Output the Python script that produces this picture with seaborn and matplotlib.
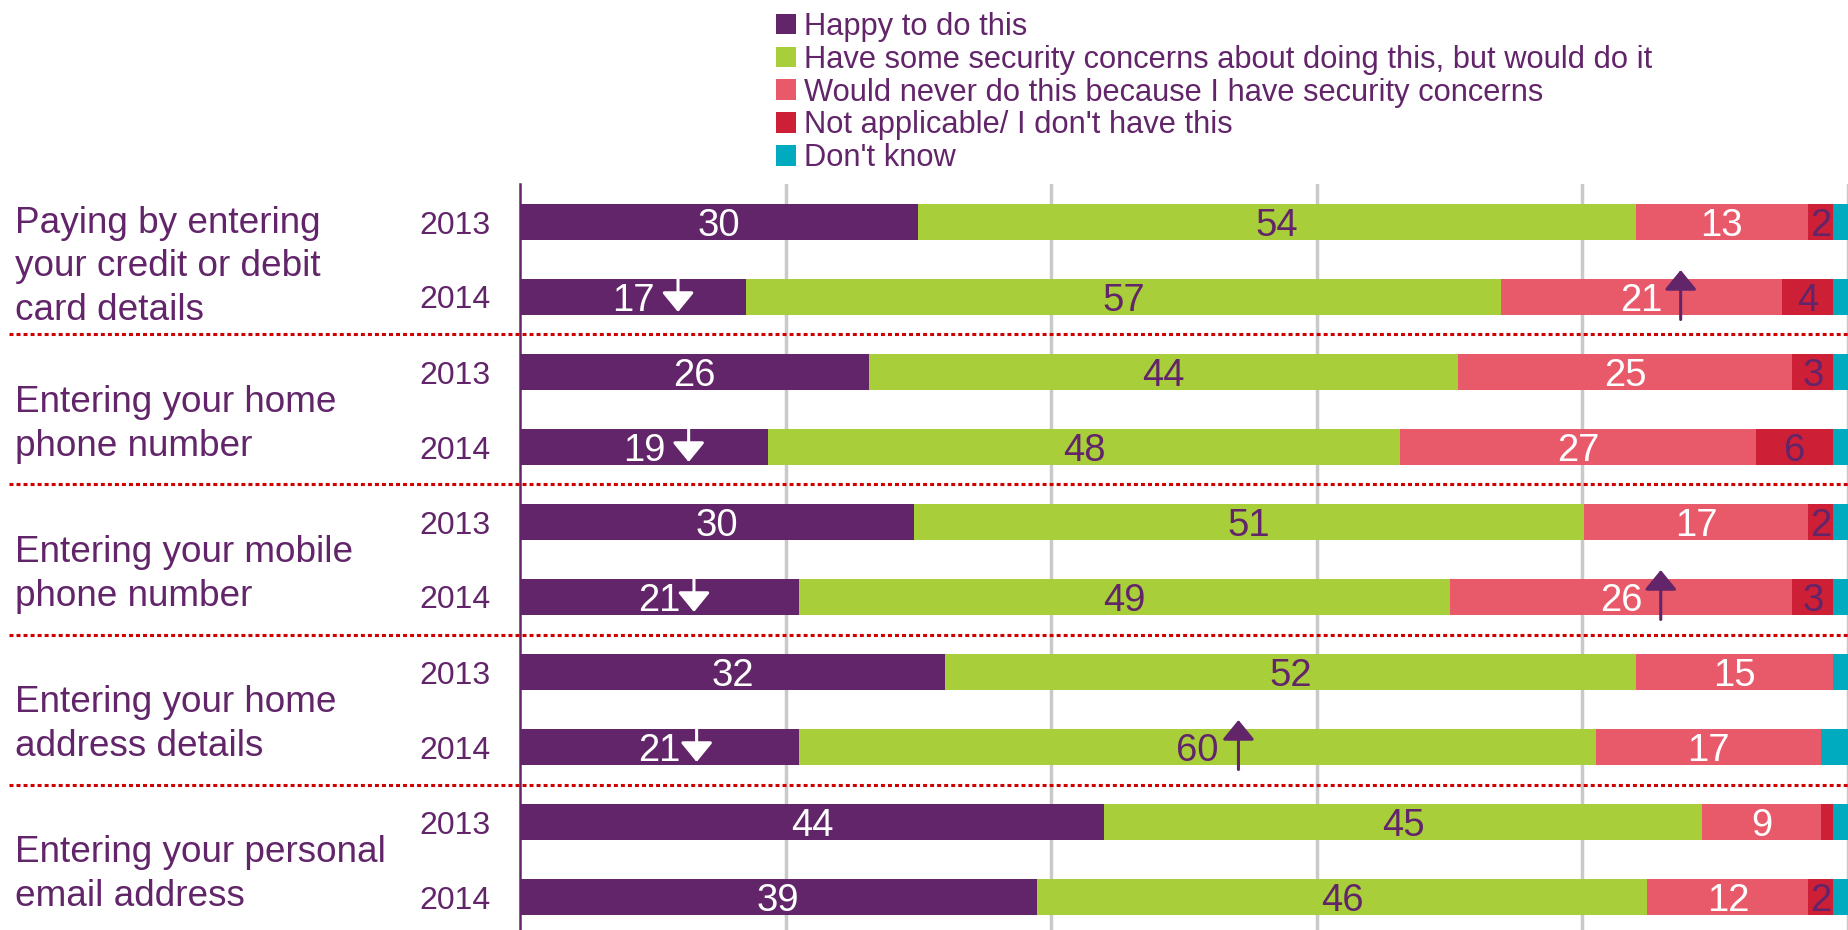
import matplotlib
matplotlib.use("Agg")
import matplotlib.pyplot as plt
import matplotlib.transforms as mtransforms
from matplotlib.ticker import FixedLocator
import numpy as np
import seaborn as sns

# data (segment widths in %, labels as printed)
items = [
    "Paying by entering\nyour credit or debit\ncard details",
    "Entering your home\nphone number",
    "Entering your mobile\nphone number",
    "Entering your home\naddress details",
    "Entering your personal\nemail address",
]
years = ["2013", "2014"] * 5
series = [
    "Happy to do this",
    "Have some security concerns about doing this, but would do it",
    "Would never do this because I have security concerns",
    "Not applicable/ I don't have this",
    "Don't know",
]
happy = [30.0, 17.0, 26.3, 18.7, 29.7, 21.0, 32.0, 21.0, 44.0, 38.9]
concerned = [54.0, 56.9, 44.3, 47.6, 50.4, 49.0, 52.0, 60.0, 45.0, 46.0]
never = [13.0, 21.1, 25.2, 26.8, 16.9, 25.8, 14.9, 17.0, 9.0, 12.1]
not_app = [1.9, 3.9, 3.1, 5.8, 1.9, 3.1, 0.0, 0.0, 0.9, 1.9]
dont_know = [1.1, 1.1, 1.1, 1.1, 1.1, 1.1, 1.1, 2.0, 1.1, 1.1]

happy_lbl = [30, 17, 26, 19, 30, 21, 32, 21, 44, 39]
concerned_lbl = [54, 57, 44, 48, 51, 49, 52, 60, 45, 46]
never_lbl = [13, 21, 25, 27, 17, 26, 15, 17, 9, 12]
not_app_lbl = [2, 4, 3, 6, 2, 3, None, None, None, 2]

# significance arrows: row, x position, up?
arrow_rows = [1, 3, 5, 7, 1, 5, 7]
arrow_x = [11.9, 12.7, 13.1, 13.3, 87.4, 85.9, 54.1]
arrow_up = [False, False, False, False, True, True, True]

colors = ["#62256A", "#A8CF3A", "#E85A6A", "#CD1F36", "#00ABC0"]
purple = "#62256A"

sns.set_style("white")
plt.rcParams["font.family"] = ["Liberation Sans", "DejaVu Sans"]

W, H = 1849, 930
fig = plt.figure(figsize=(W / 100, H / 100), dpi=100)
ax = fig.add_axes([520 / W, 0, 1328 / W, 1 - 184.5 / H])

widths = np.array([happy, concerned, never, not_app, dont_know])
cum = widths.cumsum(axis=0)
rows = np.arange(len(years))

# stacked bars drawn as overlapping cumulative totals
for i in range(4, -1, -1):
    sns.barplot(x=cum[i], y=rows, orient="h", color=colors[i], saturation=1,
                width=0.49, errorbar=None, ax=ax, label=series[i],
                linewidth=0, edgecolor="none", zorder=2)
if ax.get_legend() is not None:
    ax.get_legend().remove()

ax.set_xlim(0, 100)
ax.set_ylim(9.44, -0.5)
ax.set_xlabel("")
ax.set_ylabel("")
ax.set_xticks([20, 40, 60, 80, 100])
ax.tick_params(axis="x", length=0, labelbottom=False)
ax.grid(axis="x", color="#C9C9C9", lw=2.5)
ax.grid(axis="y", visible=False)
ax.set_axisbelow(True)

ax.set_yticks(rows)
ax.set_yticklabels(years)
ax.yaxis.set_minor_locator(FixedLocator(np.arange(-0.5, 10, 1)))
ax.tick_params(axis="y", which="major", length=0, pad=21, labelsize=23,
               labelcolor=purple)
ax.tick_params(axis="y", which="minor", length=7, width=1.5, color=purple,
               direction="out")
for s in ["top", "right", "bottom"]:
    ax.spines[s].set_visible(False)
ax.spines["left"].set_color(purple)
ax.spines["left"].set_linewidth(1.8)
ax.spines["left"].set_zorder(3)

blend = mtransforms.blended_transform_factory(fig.transFigure, ax.transData)

# group labels
for g, name in enumerate(items):
    off = 0.10 if name.count("\n") == 2 else 0.20
    ax.text(15 / W, 2 * g + 0.5 + off, name, transform=blend, ha="left",
            va="center", fontsize=26.6, color=purple, linespacing=1.32)

# dotted separators
for y in [1.5, 3.5, 5.5, 7.5]:
    ax.plot([0.005, 1.0], [y, y], transform=blend, color="#D00000", lw=2.2,
            ls=(0, (1.3, 1.0)), clip_on=False, zorder=1)

# value labels
labels = [happy_lbl, concerned_lbl, never_lbl, not_app_lbl]
txt_colors = ["white", purple, "white", purple]
for i, lbl in enumerate(labels):
    for r in rows:
        if lbl[r] is None:
            continue
        xc = cum[i][r] - widths[i][r] / 2
        ax.text(xc, r + 0.185, str(lbl[r]), ha="center", va="baseline",
                fontsize=27.5, color=txt_colors[i], zorder=5)

# arrows
for r, x, up in zip(arrow_rows, arrow_x, arrow_up):
    if up:
        tail, tip, c = r + 0.30, r - 0.36, purple
    else:
        tail, tip, c = r - 0.26, r + 0.20, "white"
    ax.annotate("", xy=(x, tip), xytext=(x, tail),
                arrowprops=dict(arrowstyle="-|>,head_length=0.55,head_width=0.45",
                                mutation_scale=22, color=c, lw=2.2,
                                shrinkA=0, shrinkB=0),
                zorder=6)

handles, names = ax.get_legend_handles_labels()
fig.legend(handles[::-1], names[::-1], loc="upper left",
           bbox_to_anchor=(776 / W, 1 - 12 / H), frameon=False,
           prop=dict(size=22.2), labelcolor=purple,
           handlelength=0.65, handleheight=0.65, handletextpad=0.25,
           labelspacing=0.09, borderpad=0, borderaxespad=0)

fig.savefig("out.png", dpi=100)
